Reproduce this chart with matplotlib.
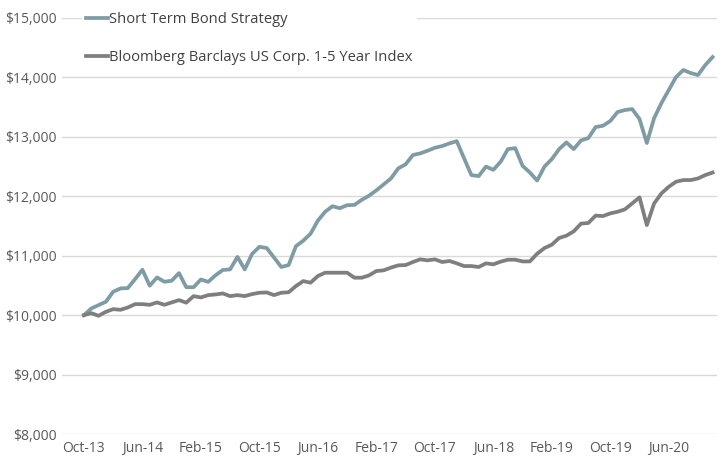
import matplotlib.pyplot as plt
from matplotlib.ticker import FuncFormatter

# monthly growth of $10,000, Oct-13 .. Dec-20
months = ["Oct-13", "Nov-13", "Dec-13", "Jan-14", "Feb-14", "Mar-14", "Apr-14", "May-14",
          "Jun-14", "Jul-14", "Aug-14", "Sep-14", "Oct-14", "Nov-14", "Dec-14", "Jan-15",
          "Feb-15", "Mar-15", "Apr-15", "May-15", "Jun-15", "Jul-15", "Aug-15", "Sep-15",
          "Oct-15", "Nov-15", "Dec-15", "Jan-16", "Feb-16", "Mar-16", "Apr-16", "May-16",
          "Jun-16", "Jul-16", "Aug-16", "Sep-16", "Oct-16", "Nov-16", "Dec-16", "Jan-17",
          "Feb-17", "Mar-17", "Apr-17", "May-17", "Jun-17", "Jul-17", "Aug-17", "Sep-17",
          "Oct-17", "Nov-17", "Dec-17", "Jan-18", "Feb-18", "Mar-18", "Apr-18", "May-18",
          "Jun-18", "Jul-18", "Aug-18", "Sep-18", "Oct-18", "Nov-18", "Dec-18", "Jan-19",
          "Feb-19", "Mar-19", "Apr-19", "May-19", "Jun-19", "Jul-19", "Aug-19", "Sep-19",
          "Oct-19", "Nov-19", "Dec-19", "Jan-20", "Feb-20", "Mar-20", "Apr-20", "May-20",
          "Jun-20", "Jul-20", "Aug-20", "Sep-20", "Oct-20", "Nov-20", "Dec-20"]

strategy = [10000, 10112, 10169, 10225, 10393, 10450, 10455, 10607, 10764, 10495,
            10635, 10562, 10579, 10708, 10470, 10470, 10600, 10560, 10670, 10760,
            10770, 10980, 10770, 11030, 11150, 11130, 10970, 10810, 10843, 11160,
            11253, 11370, 11590, 11740, 11833, 11799, 11850, 11855, 11940, 12010,
            12100, 12200, 12300, 12470, 12537, 12694, 12722, 12766, 12816, 12845,
            12890, 12928, 12640, 12357, 12340, 12500, 12445, 12580, 12794, 12810,
            12513, 12400, 12265, 12500, 12625, 12794, 12906, 12794, 12940, 12980,
            13165, 13187, 13266, 13418, 13451, 13468, 13300, 12896, 13316, 13569,
            13788, 14007, 14125, 14074, 14040, 14209, 14343]

index = [10000, 10034, 9989, 10056, 10101, 10090, 10129, 10185, 10185, 10174,
         10214, 10174, 10214, 10253, 10210, 10320, 10298, 10337, 10348, 10365,
         10320, 10337, 10320, 10354, 10377, 10382, 10337, 10377, 10385, 10489,
         10573, 10546, 10658, 10714, 10714, 10714, 10714, 10630, 10630, 10669,
         10742, 10754, 10800, 10838, 10843, 10894, 10939, 10922, 10939, 10894,
         10911, 10872, 10826, 10826, 10810, 10872, 10855, 10900, 10933, 10933,
         10904, 10904, 11034, 11129, 11185, 11298, 11337, 11410, 11540, 11551,
         11675, 11667, 11712, 11740, 11780, 11880, 11981, 11515, 11880, 12049,
         12160, 12245, 12273, 12273, 12300, 12357, 12400]

plt.rcParams["font.family"] = ["Open Sans", "DejaVu Sans"]

fig = plt.figure(figsize=(7.24, 4.58), dpi=100)
ax = fig.add_axes([62 / 724, 1 - 434 / 458, (717 - 62) / 724, (434 - 18) / 458])

x = list(range(len(months)))
ax.plot(x, strategy, color="#7f9ca4", lw=2.7, label="Short Term Bond Strategy",
        solid_joinstyle="round", zorder=3)
ax.plot(x, index, color="#7f7f7f", lw=2.7, label="Bloomberg Barclays US Corp. 1-5 Year Index",
        solid_joinstyle="round", zorder=3)

ax.set_ylim(8000, 15000)
ax.set_yticks(range(8000, 15001, 1000))
ax.yaxis.set_major_formatter(FuncFormatter(lambda v, p: f"${v:,.0f}"))
ax.set_xlim(-3.0, 86.6)
ax.set_xticks(x[::8])
ax.set_xticklabels(months[::8])

ax.grid(axis="y", color="#d9d9d9", lw=1)
ax.set_axisbelow(True)
for s in ax.spines.values():
    s.set_visible(False)
ax.tick_params(length=0, labelsize=10, colors="#595959")
ax.tick_params(axis="y", pad=4)
ax.tick_params(axis="x", pad=5)

leg = ax.legend(loc="upper left", bbox_to_anchor=(82 / 724, 1 - 8 / 458),
                bbox_transform=fig.transFigure, frameon=True, facecolor="white",
                edgecolor="none", framealpha=1, fontsize=10.6, handlelength=1.45,
                handletextpad=0.1, labelspacing=1.55, borderpad=0.3, borderaxespad=0)
for t in leg.get_texts():
    t.set_color("#404040")

fig.savefig("out.png", dpi=100)
